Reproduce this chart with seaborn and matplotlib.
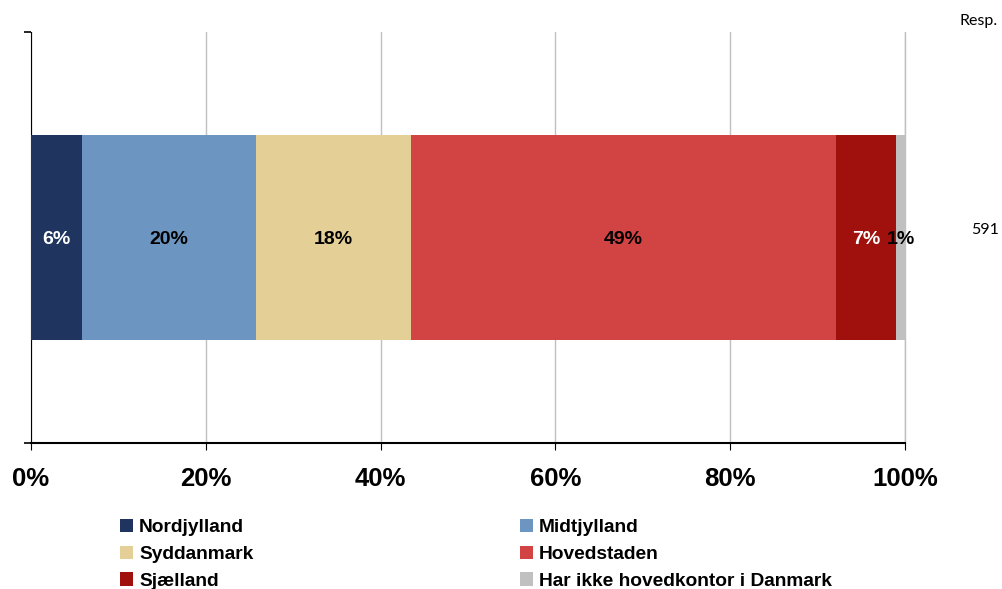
import matplotlib
matplotlib.use("Agg")
import matplotlib.pyplot as plt
from matplotlib.patches import Patch
import seaborn as sns
import numpy as np
import pandas as pd

# data
regions = ["Nordjylland", "Midtjylland", "Syddanmark", "Hovedstaden", "Sjælland",
           "Har ikke hovedkontor i Danmark"]
shares = [5.8, 19.9, 17.8, 48.6, 6.9, 1.0]
labels = ["6%", "20%", "18%", "49%", "7%", "1%"]
label_colors = ["white", "black", "black", "black", "white", "black"]
colors = ["#1F3560", "#6C96C1", "#E4D096", "#D24444", "#A0100C", "#C0C0C0"]
n_resp = "591"
xticks = [0, 20, 40, 60, 80, 100]

sns.set_style("white")
plt.rcParams["font.family"] = ["Liberation Sans", "DejaVu Sans"]
plt.rcParams["text.color"] = "black"
plt.rcParams["xtick.color"] = "black"
plt.rcParams["ytick.color"] = "black"

fig = plt.figure(figsize=(10.03, 5.89), dpi=100)
ax = fig.add_axes([0.0309, 0.2479, 0.8714, 0.6978])

ends = np.cumsum(shares)
starts = ends - np.array(shares)

# stacked bar: draw cumulative totals from the longest to the shortest
for i in range(len(regions) - 1, -1, -1):
    df = pd.DataFrame({"grp": ["all"], "val": [ends[i]]})
    sns.barplot(data=df, x="val", y="grp", orient="h", color=colors[i],
                saturation=1, width=0.5, linewidth=0, ax=ax, zorder=3)

for s, v, lab, c in zip(starts, shares, labels, label_colors):
    ax.text(s + v / 2, 0.005, lab, ha="center", va="center", color=c,
            fontsize=14, fontweight="bold", zorder=5)

ax.set_xlim(0, 100)
ax.set_ylim(0.5, -0.5)
ax.set_xticks(xticks)
ax.set_xticklabels([f"{t}%" for t in xticks], fontsize=18.5, fontweight="bold")
ax.set_yticks([-0.5, 0.5])
ax.set_yticklabels(["", ""])
ax.set_xlabel("")
ax.set_ylabel("")
ax.grid(axis="x", color="#C0C0C0", linewidth=1, zorder=0)
ax.axvline(100, color="#C0C0C0", linewidth=1, clip_on=False, zorder=0)
ax.set_axisbelow(True)
for side in ["top", "right"]:
    ax.spines[side].set_visible(False)
ax.spines["left"].set_color("black")
ax.spines["bottom"].set_color("black")
ax.spines["bottom"].set_linewidth(1.5)
ax.tick_params(axis="x", direction="out", length=5, width=0.8, pad=12, bottom=True)
ax.tick_params(axis="y", direction="out", length=5, width=1.2, left=True)

# legend, filled row by row like the original
order = [0, 2, 4, 1, 3, 5]
handles = [Patch(facecolor=colors[i], edgecolor="none") for i in order]
fig.legend(handles, [regions[i] for i in order], ncol=2, loc="upper left",
           bbox_to_anchor=(0.112, 0.132), frameon=False,
           prop={"family": "Liberation Sans", "weight": "bold", "size": 13.8},
           handlelength=0.7, handleheight=0.7, handletextpad=0.3,
           labelspacing=0.48, columnspacing=13.9, borderaxespad=0)

fig.text(0.995, 0.964, "Resp.", ha="right", va="center", fontsize=11.5, family="Lato")
fig.text(0.982, 0.61, n_resp, ha="center", va="center", fontsize=11.5, family="Lato")

fig.savefig("out.png", dpi=100)
